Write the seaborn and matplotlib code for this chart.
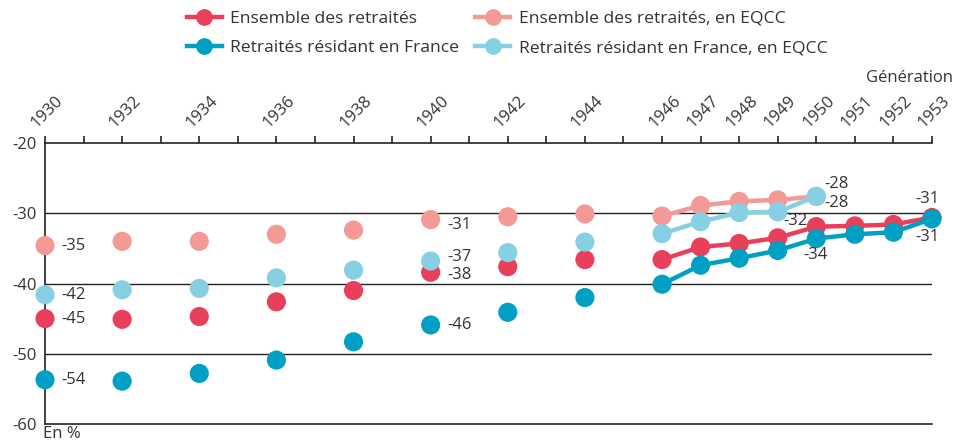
import matplotlib
matplotlib.use("Agg")
import matplotlib.pyplot as plt
from matplotlib.lines import Line2D
from matplotlib.transforms import ScaledTranslation
import seaborn as sns
import pandas as pd
import numpy as np

years = [1930, 1932, 1934, 1936, 1938, 1940, 1942, 1944,
         1946, 1947, 1948, 1949, 1950, 1951, 1952, 1953]
ensemble = [-45.0, -45.1, -44.7, -42.6, -41.0, -38.4, -37.6, -36.6,
            -36.6, -34.8, -34.3, -33.5, -31.9, -31.8, -31.6, -30.6]
ensemble_eqcc = [-34.6, -34.0, -34.0, -33.0, -32.4, -30.9, -30.5, -30.1,
                 -30.4, -28.9, -28.3, -28.1, -27.6, None, None, None]
france = [-53.7, -53.9, -52.8, -50.9, -48.3, -45.9, -44.1, -42.0,
          -40.1, -37.4, -36.4, -35.3, -33.6, -33.0, -32.7, -30.8]
france_eqcc = [-41.6, -40.9, -40.7, -39.2, -38.1, -36.8, -35.6, -34.1,
               -32.9, -31.2, -29.9, -29.8, -27.6, None, None, None]

names = ["Ensemble des retraités", "Ensemble des retraités, en EQCC",
         "Retraités résidant en France", "Retraités résidant en France, en EQCC"]
colors = {names[0]: "#E8405A", names[1]: "#F39A96",
          names[2]: "#009FC4", names[3]: "#87D0E3"}
line_start = 1946
tick_years = list(range(1930, 1954))
label_years = years
yticks = [-20, -30, -40, -50, -60]

rows = []
for name, vals in zip(names, [ensemble, ensemble_eqcc, france, france_eqcc]):
    for y, v in zip(years, vals):
        if v is not None:
            rows.append({"year": y, "value": v, "series": name})
df = pd.DataFrame(rows)

FONT = ['Open Sans', 'DejaVu Sans']
plt.rcParams['font.family'] = FONT
TXT = "#333333"
FS = 12
fig = plt.figure(figsize=(9.59, 4.42), dpi=100)
ax = fig.add_axes([45/959, 1-424/442, (932-45)/959, (424-143)/442])

draw_order = [names[1], names[0], names[3], names[2]]
for name in draw_order:
    sub = df[df.series == name]
    seg = sub[sub.year >= line_start]
    sns.lineplot(data=seg, x="year", y="value", color=colors[name], lw=3.2,
                 ax=ax, legend=False, zorder=3)
    sns.scatterplot(data=sub, x="year", y="value", color=colors[name], s=190,
                    edgecolor="none", ax=ax, legend=False, zorder=4, clip_on=False)
for c in ax.collections:
    c.set_clip_on(False)

ax.set_xlim(1930, 1953)
ax.set_ylim(-60, -20)
ax.set_xlabel("")
ax.set_ylabel("")

for yv in [-30, -40, -50]:
    ax.axhline(yv, color="#222222", lw=1.0, zorder=1)

ax.spines["right"].set_visible(False)
for s in ["top", "left", "bottom"]:
    ax.spines[s].set_color("#222222")
    ax.spines[s].set_linewidth(1.2)

ax.xaxis.tick_top()
ax.set_xticks(tick_years)
ax.set_xticklabels([str(y) if y in label_years else "" for y in tick_years])
ax.tick_params(axis="x", which="major", direction="out", length=5, width=1.2,
               color="#222222", labelsize=FS, labelcolor=TXT, pad=6)
shift = ScaledTranslation(-8/100, 0, fig.dpi_scale_trans)
for lab in ax.get_xticklabels():
    lab.set_rotation(45)
    lab.set_ha("left")
    lab.set_va("baseline")
    lab.set_rotation_mode("anchor")
    lab.set_transform(lab.get_transform() + shift)
ax.set_yticks(yticks)
ax.set_yticklabels([str(v) for v in yticks])
ax.tick_params(axis="y", direction="out", length=0, labelsize=FS,
               labelcolor=TXT, pad=6)

def lab(year, vals, offset, ha="left", va="center"):
    v = vals[years.index(year)]
    ax.annotate(f"{round(v):d}", (year, v), xytext=offset, textcoords="offset points",
                ha=ha, va=va, fontsize=FS, color=TXT, zorder=6)

lab(1930, ensemble_eqcc, (12, 0))
lab(1930, france_eqcc, (12, 0))
lab(1930, ensemble, (12, 0))
lab(1930, france, (12, 0))
lab(1940, ensemble_eqcc, (12, -4))
lab(1940, france_eqcc, (12, 3))
lab(1940, ensemble, (12, -2))
lab(1940, france, (12, 0))
lab(1950, ensemble_eqcc, (6, 9))
lab(1950, france_eqcc, (6, -5))
lab(1950, ensemble, (-6, 4), ha="right")
lab(1950, france, (-9, -12))
lab(1953, ensemble, (-3, 13), ha="center")
lab(1953, france, (-3, -13), ha="center")

handles = [Line2D([0], [0], color=colors[n], lw=3.2, marker="o", markersize=11)
           for n in [names[0], names[2], names[1], names[3]]]
fig.legend(handles, [names[0], names[2], names[1], names[3]], ncol=2,
           loc="upper left", bbox_to_anchor=(171/959, 1.012), frameon=False,
           fontsize=12.6, handlelength=2.0, handletextpad=0.5, columnspacing=0.9,
           labelspacing=0.75, labelcolor=TXT)

fig.text(953/959, 1-78/442, "Génération", ha="right", va="center", fontsize=FS, color=TXT)
fig.text(43/959, 1-426/442, "En %", ha="left", va="top", fontsize=FS, color=TXT)

fig.savefig("out.png", dpi=100)
